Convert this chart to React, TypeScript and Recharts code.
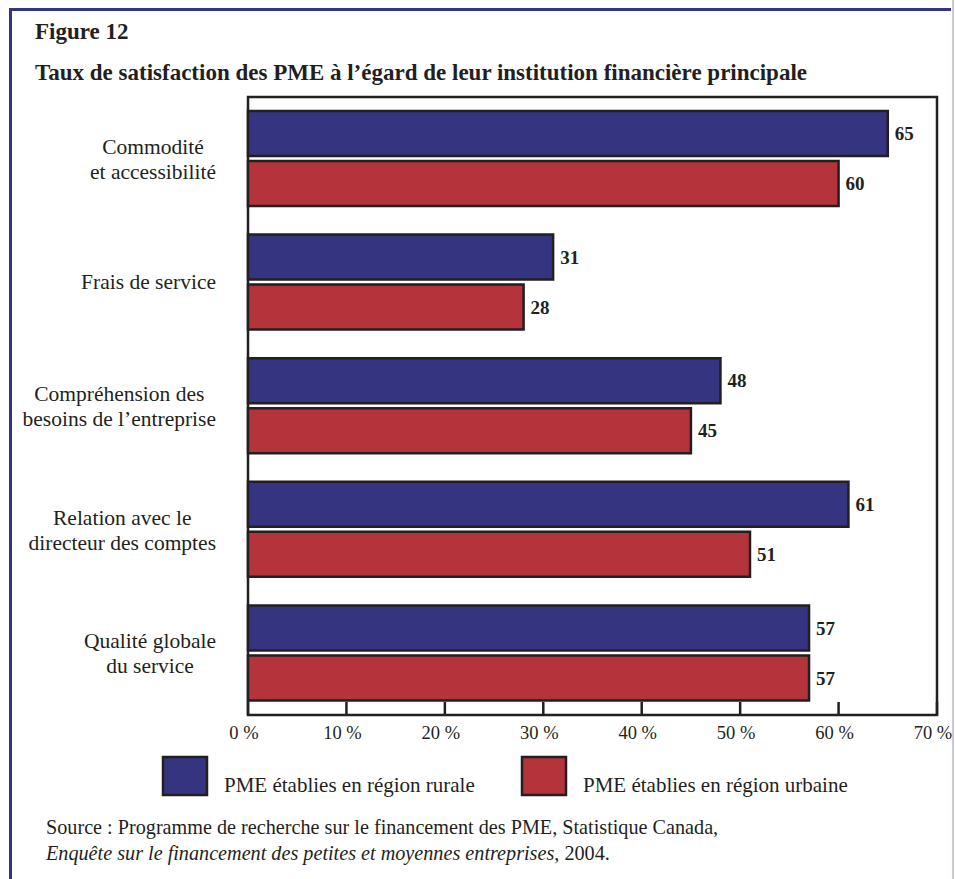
import { BarChart, Bar, XAxis, YAxis, ReferenceArea, LabelList, Legend } from "recharts";

const categories = [
  ["Commodité", "et accessibilité"],
  ["Frais de service"],
  ["Compréhension des", "besoins de l’entreprise"],
  ["Relation avec le", "directeur des comptes"],
  ["Qualité globale", "du service"],
];
const rural = [65, 31, 48, 61, 57];
const urban = [60, 28, 45, 51, 57];
const xTicks = [0, 10, 20, 30, 40, 50, 60, 70];

const data = categories.map((lines, i) => ({
  name: lines.join("\n"),
  rural: rural[i],
  urban: urban[i],
}));

const SERIF = '"Liberation Serif", "Times New Roman", serif';
const INK = "#231f20";
const BLUE = "#343480";
const RED = "#b5333b";

let measureCtx: CanvasRenderingContext2D | null = null;
function textWidth(s: string, font: string) {
  if (!measureCtx) measureCtx = document.createElement("canvas").getContext("2d");
  if (!measureCtx) return s.length * 9;
  measureCtx.font = font;
  return measureCtx.measureText(s).width;
}

// category label: lines centred on each other, block right-aligned near the plot
function CategoryTick(props: any) {
  const { x, y, payload } = props;
  const lines: string[] = String(payload.value).split("\n");
  const font = `21.5px ${SERIF}`;
  const widest = Math.max(...lines.map((l) => textWidth(l, font)));
  const cx = x - 32 - widest / 2;
  const first = lines.length === 1 ? y + 7 : y - 5;
  return (
    <g>
      {lines.map((l, i) => (
        <text key={i} x={cx} y={first + i * 25} textAnchor="middle" fontFamily={SERIF} fontSize={21.5} fill={INK}>
          {l}
        </text>
      ))}
    </g>
  );
}

// inward tick mark plus percent label below the axis
function PercentTick(props: any) {
  const { x, y, payload } = props;
  return (
    <g>
      <line x1={x} y1={y} x2={x} y2={y - 13} stroke={INK} strokeWidth={2.5} />
      <text x={x - 4} y={y + 24} textAnchor="middle" fontFamily={SERIF} fontSize={18.5} fill={INK}>
        {`${payload.value} %`}
      </text>
    </g>
  );
}

function LegendBox(props: any) {
  const items = props.payload || [];
  const xs = [163, 522];
  return (
    <svg width={955} height={50} style={{ overflow: "visible", display: "block" }}>
      {items.map((it: any, i: number) => (
        <g key={it.value}>
          <rect x={xs[i]} y={2} width={44} height={38} fill={it.color} stroke={INK} strokeWidth={2.5} />
          <text x={xs[i] + 61} y={37} fontFamily={SERIF} fontSize={21} fill={INK}>
            {it.value}
          </text>
        </g>
      ))}
    </svg>
  );
}

export default function App() {
  return (
    <div style={{ position: "absolute", left: 0, top: 0, width: 955, height: 879, background: "#fff" }}>
      {/* frame */}
      <div style={{ position: "absolute", left: 9, top: 8, width: 942, height: 3, background: BLUE }} />
      <div style={{ position: "absolute", left: 9, top: 8, width: 3, height: 871, background: BLUE }} />
      <div style={{ position: "absolute", left: 952, top: 0, width: 2, height: 879, background: "#c9c9e3" }} />

      <svg width={955} height={879} style={{ position: "absolute", left: 0, top: 0 }}>
        <text x={35} y={39} fontFamily={SERIF} fontWeight="bold" fontSize={23} fill={INK}>
          Figure 12
        </text>
        <text x={35} y={80} fontFamily={SERIF} fontWeight="bold" fontSize={23} fill={INK}>
          Taux de satisfaction des PME à l’égard de leur institution financière principale
        </text>
        <text x={46} y={834} fontFamily={SERIF} fontSize={20.2} fill={INK}>
          Source : Programme de recherche sur le financement des PME, Statistique Canada,
        </text>
        <text x={46} y={860} fontFamily={SERIF} fontSize={20.2} fill={INK}>
          <tspan fontStyle="italic">Enquête sur le financement des petites et moyennes entreprises</tspan>, 2004.
        </text>
      </svg>

      <div style={{ position: "absolute", left: 0, top: 0 }}>
        <BarChart
          width={955}
          height={879}
          data={data}
          layout="vertical"
          margin={{ top: 47, right: 18, bottom: 134, left: 0 }}
          barCategoryGap={14}
          barGap={5}
          style={{ overflow: "visible" }}
        >
          <XAxis
            type="number"
            domain={[0, 70]}
            ticks={xTicks}
            interval={0}
            height={30}
            axisLine={false}
            tickLine={false}
            tickSize={0}
            tickMargin={0}
            tick={<PercentTick />}
          />
          <YAxis
            type="category"
            dataKey="name"
            width={248}
            axisLine={false}
            tickLine={false}
            tickSize={0}
            tickMargin={0}
            interval={0}
            tick={<CategoryTick />}
          />
          <ReferenceArea x1={0} x2={70} fill="none" stroke={INK} strokeWidth={2.5} ifOverflow="visible" />
          <Bar dataKey="rural" name="PME établies en région rurale" fill={BLUE} stroke={INK} strokeWidth={2.5} isAnimationActive={false}>
            <LabelList dataKey="rural" position="right" offset={7} fontFamily={SERIF} fontWeight="bold" fontSize={19} fill={INK} />
          </Bar>
          <Bar dataKey="urban" name="PME établies en région urbaine" fill={RED} stroke={INK} strokeWidth={2.5} isAnimationActive={false}>
            <LabelList dataKey="urban" position="right" offset={7} fontFamily={SERIF} fontWeight="bold" fontSize={19} fill={INK} />
          </Bar>
          <Legend
            content={<LegendBox />}
            verticalAlign="top"
            wrapperStyle={{ position: "absolute", left: 0, top: 755, width: 955, height: 50 }}
          />
        </BarChart>
      </div>
    </div>
  );
}
